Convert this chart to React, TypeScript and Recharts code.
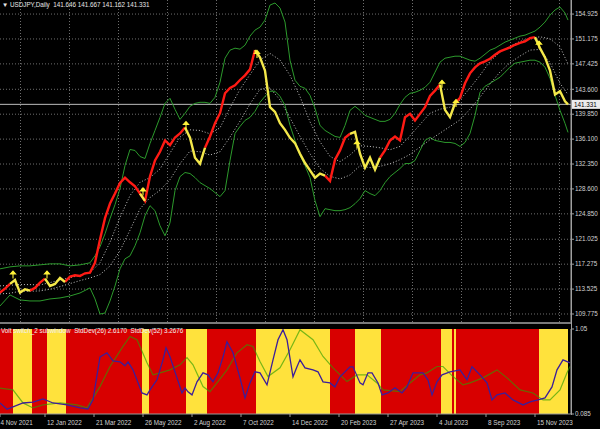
import React from "react";
import {
  CartesianGrid,
  ComposedChart,
  Line,
  ReferenceArea,
  ReferenceLine,
  Scatter,
  XAxis,
  YAxis,
} from "recharts";

const FONT = "'Liberation Sans', Arial, sans-serif";
const TXT = "#d2d2d2";

// ---- price window ----
const priceTicks = [154.925, 151.175, 147.425, 143.6, 139.85, 136.1, 132.35, 128.6, 124.85, 121.025, 117.275, 113.525, 109.775];
const lastPrice = 141.331;
const gridX = [20.5, 45, 69.5, 94, 118.5, 143, 167.5, 192, 216.5, 241, 265.5, 290, 314.5, 339, 363.5, 388, 412.5, 437, 461.5, 486, 510.5, 535, 559.5];

// bar position (x) and close
const priceX = [
  0, 5, 10, 15, 20, 25, 30, 35, 40, 45, 50, 55, 60, 65, 70, 75, 80, 85, 90, 95,
  100, 105, 110, 115, 120, 125, 130, 135, 140, 145, 150, 155, 160, 165, 170, 175, 180, 185, 190, 195,
  200, 205, 210, 215, 220, 225, 230, 235, 240, 245, 250, 255, 260, 265, 270, 275, 280, 285, 290, 295,
  300, 305, 310, 315, 320, 325, 330, 335, 340, 345, 350, 355, 360, 365, 370, 375, 380, 385, 390, 395,
  400, 405, 410, 415, 420, 425, 430, 435, 440, 445, 450, 455, 460, 465, 470, 475, 480, 485, 490, 495,
  500, 505, 510, 515, 520, 525, 530, 535, 540, 545, 550, 555, 560, 565, 568,
];
const priceVals = [
  112.99, 113.6, 114.3, 114.9, 113.0, 113.5, 113.3, 113.7, 114.5, 115.1,
  114.0, 114.3, 115.2, 114.6, 115.4, 115.6, 115.5, 115.9, 116.0, 117.5,
  121.0, 124.2, 126.4, 127.9, 129.5, 130.3, 129.6, 129.0, 127.9, 126.8,
  130.5, 132.9, 134.2, 135.9, 135.2, 136.35, 136.95, 137.86, 136.3, 133.3,
  132.4, 134.8, 136.5, 138.5, 140.0, 143.0, 143.8, 144.2, 145.0, 145.7,
  146.6, 149.5, 148.4, 146.4, 140.9, 140.2, 138.5, 137.5, 136.3, 135.5,
  133.9, 132.5, 131.4, 130.3, 130.9, 130.6, 129.8, 133.0, 134.4, 136.3,
  136.9, 137.2, 133.9, 131.8, 133.3, 131.5, 133.3, 134.4, 135.9, 136.5,
  135.9, 139.4, 139.9, 138.9, 139.9, 140.9, 142.6, 143.4, 144.3, 140.5,
  139.4, 141.5, 142.3, 144.5, 146.0, 146.9, 147.5, 147.8, 148.2, 148.8,
  149.3, 149.6, 149.9, 150.3, 150.6, 150.8, 151.3, 151.45, 149.8, 148.4,
  146.4, 142.8, 143.3, 141.8, 141.33,
];

// outer bands (green)
const bandX = [
  0, 10, 20, 30, 40, 50, 60, 70, 80, 90,
  95, 100, 105, 110, 115, 120, 125, 130, 135, 140,
  145, 150, 155, 160, 165, 170, 175, 180, 185, 190,
  195, 200, 205, 210, 215, 220, 225, 230, 235, 240,
  245, 250, 255, 260, 265, 270, 275, 280, 285, 290,
  295, 300, 305, 310, 315, 320, 325, 330, 335, 340,
  345, 350, 355, 360, 365, 370, 375, 380, 385, 390,
  395, 400, 405, 410, 415, 420, 425, 430, 435, 440,
  445, 450, 455, 460, 465, 470, 475, 480, 485, 490,
  495, 500, 505, 510, 515, 520, 525, 530, 535, 540,
  545, 550, 555, 560, 565, 568,
];
const bandUpper = [
  116.57, 116.87, 117.02, 117.02, 117.17, 117.32, 117.32, 117.02, 117.17, 117.48,
  118.53, 119.89, 121.85, 124.12, 126.23, 128.65, 132.12, 134.54, 134.39, 133.48,
  133.18, 135.45, 137.41, 139.37, 141.48, 142.24, 140.58, 139.07, 139.98, 141.03,
  141.48, 141.64, 141.64, 141.48, 142.39, 144.66, 148.28, 149.49, 149.79, 149.64,
  150.24, 151.6, 152.51, 152.96, 154.02, 156.28, 156.59, 155.83, 153.72, 147.98,
  144.96, 144.05, 143.75, 142.69, 140.73, 138.16, 137.41, 136.95, 136.5, 136.35,
  138.16, 140.43, 141.03, 140.43, 139.67, 139.37, 139.07, 138.77, 138.77, 139.07,
  139.98, 141.33, 142.39, 142.99, 143.15, 143.45, 143.9, 144.66, 146.17, 147.68,
  148.28, 148.43, 148.58, 148.58, 148.28, 147.98, 147.83, 148.28, 148.88, 149.49,
  149.79, 150.24, 150.7, 151.0, 151.3, 151.6, 151.75, 152.06, 152.36, 152.96,
  153.72, 154.77, 155.53, 155.98, 155.08, 154.02,
];
const bandLower = [
  110.98, 112.64, 111.89, 111.74, 111.74, 112.04, 112.19, 112.49, 112.94, 113.7,
  112.04, 109.77, 109.92, 111.74, 114.0, 116.57, 118.08, 118.53, 120.04, 122.0,
  124.57, 126.08, 125.33, 123.06, 121.55, 123.51, 128.35, 130.46, 131.07, 130.92,
  130.31, 129.55, 129.1, 128.65, 128.05, 127.44, 128.35, 132.88, 136.95, 138.01,
  138.92, 139.37, 140.28, 141.64, 142.54, 143.3, 143.3, 142.54, 141.18, 138.16,
  135.9, 133.63, 132.12, 130.31, 126.84, 124.42, 125.63, 125.48, 125.33, 125.33,
  125.48, 125.78, 126.38, 127.14, 128.35, 127.9, 127.59, 128.35, 129.55, 130.46,
  131.07, 131.67, 132.42, 132.42, 132.88, 134.39, 135.9, 136.35, 135.9, 135.75,
  135.6, 135.6, 135.45, 134.99, 135.6, 136.95, 139.67, 143.15, 144.05, 144.5,
  144.96, 145.41, 146.17, 146.92, 147.53, 147.68, 147.83, 147.98, 147.98, 147.68,
  146.92, 145.26, 142.69, 140.43, 138.47, 137.11,
];

// inner bands (dotted)
const innerX = [
  0, 10, 20, 30, 40, 50, 60, 70, 80, 90,
  100, 110, 120, 130, 140, 150, 160, 170, 180, 190,
  200, 210, 220, 230, 240, 250, 260, 270, 280, 290,
  300, 310, 320, 330, 340, 350, 360, 370, 380, 390,
  400, 410, 420, 430, 440, 450, 460, 470, 480, 490,
  500, 510, 520, 530, 540, 550, 560, 568,
];
const innerUpper = [
  114.0, 114.1, 114.2, 114.2, 114.15, 114.5, 114.9, 115.25, 115.6, 116.0,
  117.5, 120.6, 124.3, 127.6, 129.6, 130.3, 131.6, 134.0, 136.4, 137.5,
  137.4, 136.9, 137.8, 140.8, 143.6, 145.8, 148.0, 149.0, 148.0, 145.7,
  142.5, 138.7, 135.7, 133.5, 132.7, 133.7, 135.1, 135.0, 134.8, 134.5,
  135.0, 136.6, 138.3, 140.0, 140.6, 140.9, 142.0, 143.8, 145.7, 147.8,
  149.2, 150.1, 150.8, 151.3, 151.5, 151.2, 150.0, 147.4,
];
const innerLower = [
  112.8, 112.9, 113.2, 113.2, 113.25, 113.5, 113.9, 114.35, 114.8, 115.2,
  115.7, 117.0, 119.3, 122.4, 125.6, 127.3, 128.4, 130.0, 132.4, 134.3,
  134.2, 133.7, 134.2, 136.4, 138.8, 141.4, 143.6, 143.8, 142.0, 139.3,
  136.5, 133.9, 131.7, 130.5, 130.1, 130.7, 132.1, 131.8, 132.0, 132.4,
  133.0, 133.8, 134.9, 136.0, 137.0, 138.0, 139.0, 140.6, 142.4, 144.4,
  146.2, 147.6, 148.6, 149.5, 149.6, 147.6, 144.5, 142.8,
];

// signal arrows
const arrowX = [13, 47, 143, 186, 257, 357, 442, 456, 539];
const arrowP = [115.8, 115.8, 128.3, 138.3, 149.0, 135.4, 144.5, 141.6, 150.4];

// trend regimes (red = up, yellow = down)
const regimeStart = [0, 13, 32, 47, 66, 142, 149, 186, 207, 256, 330, 355, 381, 441, 452, 454, 456, 539];
const regimeEnd = [13, 32, 47, 66, 142, 149, 186, 207, 256, 330, 355, 381, 441, 452, 454, 456, 539, 568];
const regimeTrend = ["up", "down", "up", "down", "up", "down", "up", "down", "up", "down", "up", "down", "up", "down", "up", "down", "up", "down"];

// ---- sub window ----
const blueX = [
  0, 7, 13, 23, 33, 43, 53, 67, 80, 88, 93, 100, 107, 113, 120, 125, 128, 133, 142, 147,
  150, 157, 163, 166, 170, 177, 182, 185, 188, 192, 197, 203, 208, 213, 218, 223, 227, 233, 240, 245,
  250, 255, 260, 267, 273, 278, 283, 287, 293, 297, 300, 305, 313, 318, 323, 330, 335, 340, 350, 353,
  360, 363, 368, 372, 378, 382, 388, 395, 402, 407, 413, 423, 428, 432, 437, 442, 450, 460, 467, 472,
  480, 487, 492, 497, 505, 513, 523, 530, 538, 545, 552, 557, 563, 570,
];
const blueV = [
  0.21, 0.14, 0.165, 0.21, 0.22, 0.256, 0.21, 0.188, 0.154, 0.142, 0.245, 0.734, 0.78, 0.689, 0.677, 0.632, 0.677, 0.586, 0.324, 0.302,
  0.359, 0.473, 0.7, 0.837, 0.734, 0.495, 0.324, 0.382, 0.336, 0.302, 0.45, 0.552, 0.529, 0.45, 0.552, 0.734, 0.905, 0.78, 0.495, 0.267,
  0.438, 0.564, 0.552, 0.416, 0.7, 0.928, 1.042, 0.928, 0.507, 0.621, 0.7, 0.609, 0.586, 0.564, 0.45, 0.438, 0.393, 0.507, 0.621, 0.621,
  0.438, 0.416, 0.552, 0.552, 0.438, 0.302, 0.324, 0.382, 0.324, 0.393, 0.552, 0.552, 0.473, 0.302, 0.45, 0.529, 0.564, 0.586, 0.473, 0.621,
  0.529, 0.438, 0.245, 0.302, 0.324, 0.245, 0.188, 0.222, 0.245, 0.267, 0.393, 0.586, 0.7, 0.666,
];
const greenX = [
  0, 13, 23, 33, 43, 60, 77, 87, 100, 110, 123, 130, 137, 147, 153, 160, 170, 180, 187, 193,
  203, 210, 217, 227, 237, 247, 253, 260, 268, 280, 290, 300, 313, 323, 333, 347, 357, 367, 377, 383,
  400, 410, 420, 427, 437, 443, 453, 463, 470, 483, 497, 507, 520, 533, 543, 550, 560, 567, 570,
];
const greenV = [
  0.378, 0.359, 0.211, 0.154, 0.188, 0.211, 0.188, 0.154, 0.396, 0.624, 0.852, 0.966, 0.928, 0.666, 0.529, 0.552, 0.586, 0.643, 0.725, 0.643,
  0.396, 0.339, 0.438, 0.586, 0.78, 0.871, 0.852, 0.681, 0.51, 0.609, 0.814, 1.042, 0.928, 0.738, 0.609, 0.453, 0.529, 0.529, 0.438, 0.359,
  0.339, 0.438, 0.529, 0.552, 0.624, 0.624, 0.51, 0.416, 0.438, 0.495, 0.586, 0.495, 0.359, 0.324, 0.245, 0.245, 0.359, 0.552, 0.624,
];

const dateTicks = [0, 45, 94, 143, 192, 241, 290, 339, 388, 437, 486, 535];
const dateLabels = ["4 Nov 2021", "12 Jan 2022", "21 Mar 2022", "26 May 2022", "2 Aug 2022", "7 Oct 2022", "14 Dec 2022", "20 Feb 2023", "27 Apr 2023", "4 Jul 2023", "8 Sep 2023", "15 Nov 2023"];

function trendAt(x: number) {
  for (let i = 0; i < regimeStart.length; i++) {
    if (x >= regimeStart[i] && x < regimeEnd[i]) return regimeTrend[i];
  }
  return regimeTrend[regimeTrend.length - 1];
}

function merge(series: Record<string, [number[], (number | null)[]]>) {
  const map = new Map<number, any>();
  Object.entries(series).forEach(([key, [xs, vs]]) => {
    xs.forEach((x, i) => {
      const row = map.get(x) ?? { x };
      row[key] = vs[i];
      map.set(x, row);
    });
  });
  return [...map.values()].sort((a, b) => a.x - b.x);
}

// red/yellow split of the close: each segment takes the colour of its end bar
const upVals = priceX.map((x, i) => {
  const tn = i + 1 < priceX.length ? trendAt(priceX[i + 1]) : trendAt(x);
  return trendAt(x) === "up" || tn === "up" ? priceVals[i] : null;
});
const downVals = priceX.map((x, i) => {
  const tn = i + 1 < priceX.length ? trendAt(priceX[i + 1]) : trendAt(x);
  return trendAt(x) === "down" || tn === "down" ? priceVals[i] : null;
});

const priceRows = merge({
  up: [priceX, upVals],
  down: [priceX, downVals],
  bu: [bandX, bandUpper],
  bl: [bandX, bandLower],
  iu: [innerX, innerUpper],
  il: [innerX, innerLower],
});
const arrowRows = arrowX.map((x, i) => ({ x, p: arrowP[i] }));

const oscRows = merge({ blue: [blueX, blueV], green: [greenX, greenV] });

function ArrowMark(props: any) {
  const { cx, cy } = props;
  if (cx == null || cy == null) return <g />;
  return (
    <g stroke="#fff23a" fill="#fff23a" strokeWidth={1.1}>
      <line x1={cx} x2={cx} y1={cy - 1} y2={cy + 4.5} />
      <path d={`M${cx - 2.6},${cy} L${cx + 2.6},${cy} L${cx},${cy - 3} Z`} />
    </g>
  );
}

function PriceTag(props: any) {
  const vb = props.viewBox || {};
  const x = vb.x + vb.width + 1;
  const y = vb.y;
  return (
    <g>
      <rect x={x} y={y - 4.5} width={28} height={9} fill="#ececec" />
      <text x={x + 2} y={y + 2.3} fontSize={6.3} fill="#000" fontFamily={FONT}>
        {lastPrice.toFixed(3)}
      </text>
    </g>
  );
}

function DateTick(props: any) {
  const { x, y, index } = props;
  return (
    <g>
      <line x1={x} x2={x} y1={y - 3} y2={y} stroke="#9a9a9a" />
      <text x={index === 0 ? x + 0.5 : x + 2} y={y + 7.5} fontSize={6.3} fill={TXT} fontFamily={FONT}>
        {dateLabels[index]}
      </text>
    </g>
  );
}

export default function App() {
  return (
    <div style={{ position: "fixed", left: 0, top: 0, width: 600, height: 429, background: "#000", overflow: "hidden", fontFamily: FONT }}>
      <div style={{ position: "absolute", left: 0, top: 0 }}>
        <ComposedChart width={600} height={322} data={priceRows} margin={{ top: 0, right: 0, bottom: 0, left: 0 }}>
          <CartesianGrid stroke="#6e6e6e" strokeDasharray="1 2" horizontalValues={priceTicks} verticalValues={gridX} />
          <XAxis dataKey="x" type="number" domain={[0, 571]} ticks={gridX} allowDataOverflow hide />
          <YAxis
            orientation="right"
            width={29}
            domain={[108.57, 157.04]}
            allowDataOverflow
            ticks={priceTicks}
            interval={0}
            tickFormatter={(v: number) => v.toFixed(3)}
            tick={{ fill: TXT, fontSize: 6.3, fontFamily: FONT }}
            tickSize={3}
            tickMargin={1}
            tickLine={{ stroke: "#a0a0a0" }}
            axisLine={{ stroke: "#a0a0a0" }}
          />
          <ReferenceLine y={lastPrice} stroke="#bcbcbc" label={<PriceTag />} />
          <Line dataKey="bu" type="linear" stroke="#2c9a2c" strokeWidth={1} dot={false} activeDot={false} connectNulls isAnimationActive={false} />
          <Line dataKey="bl" type="linear" stroke="#2c9a2c" strokeWidth={1} dot={false} activeDot={false} connectNulls isAnimationActive={false} />
          <Line dataKey="iu" type="linear" stroke="#c4c4c4" strokeWidth={1} strokeDasharray="1 2" dot={false} activeDot={false} connectNulls isAnimationActive={false} />
          <Line dataKey="il" type="linear" stroke="#c4c4c4" strokeWidth={1} strokeDasharray="1 2" dot={false} activeDot={false} connectNulls isAnimationActive={false} />
          <Line dataKey="up" type="linear" stroke="#ff1a14" strokeWidth={2.4} dot={false} activeDot={false} isAnimationActive={false} />
          <Line dataKey="down" type="linear" stroke="#f4e84a" strokeWidth={2.4} dot={false} activeDot={false} isAnimationActive={false} />
          <Scatter data={arrowRows} dataKey="p" shape={<ArrowMark />} isAnimationActive={false} />
        </ComposedChart>
      </div>

      <div style={{ position: "absolute", left: 0, top: 322, width: 571, height: 2, background: "#7a7a7a" }} />
      <div style={{ position: "absolute", left: 571, top: 0, width: 1, height: 415, background: "#a0a0a0" }} />

      <div style={{ position: "absolute", left: 0, top: 322 }}>
        <ComposedChart width={600} height={107} data={oscRows} margin={{ top: 7, right: 0, bottom: 0, left: 0 }}>
          <XAxis
            dataKey="x"
            type="number"
            domain={[0, 571]}
            allowDataOverflow
            ticks={dateTicks}
            interval={0}
            height={15}
            tickSize={3}
            tickMargin={0}
            tickLine={false}
            tick={<DateTick />}
            axisLine={{ stroke: "#9a9a9a" }}
          />
          <YAxis
            orientation="right"
            width={29}
            domain={[0.085, 1.05]}
            allowDataOverflow
            ticks={[0.085, 1.05]}
            interval={0}
            tickFormatter={(v: number) => String(v)}
            tick={{ fill: TXT, fontSize: 6.3, fontFamily: FONT }}
            tickSize={3}
            tickMargin={1}
            tickLine={{ stroke: "#a0a0a0" }}
            axisLine={{ stroke: "#a0a0a0" }}
          />
          {regimeStart.map((s, i) => (
            <ReferenceArea
              key={i}
              x1={s}
              x2={regimeEnd[i]}
              y1={0.085}
              y2={1.05}
              fill={regimeTrend[i] === "up" ? "#d80000" : "#ffe23c"}
              fillOpacity={1}
              stroke="none"
            />
          ))}
          <Line dataKey="green" type="linear" stroke="#2e9e00" strokeOpacity={0.65} strokeWidth={1.2} dot={false} activeDot={false} connectNulls isAnimationActive={false} />
          <Line dataKey="blue" type="linear" stroke="#3c1e9a" strokeWidth={1.3} dot={false} activeDot={false} connectNulls isAnimationActive={false} />
        </ComposedChart>
      </div>

      <div style={{ position: "absolute", left: 2, top: 1, fontSize: 6.3, lineHeight: "8px", color: "#e6e6e6", whiteSpace: "pre" }}>
        {"\u25BC USDJPY,Daily  141.646 141.667 141.162 141.331"}
      </div>
      <div style={{ position: "absolute", left: 1, top: 327, fontSize: 6.3, lineHeight: "8px", color: "#f0f0f0", whiteSpace: "pre" }}>
        {"Volt switch_2 subwindow  StdDev(26) 2.6170  StdDev(52) 3.2676"}
      </div>
    </div>
  );
}
